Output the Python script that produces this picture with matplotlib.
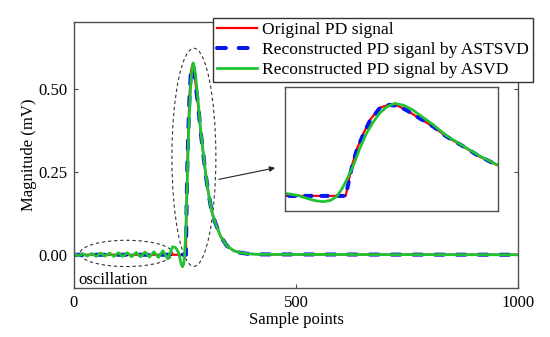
import matplotlib
matplotlib.use("Agg")
import matplotlib.pyplot as plt
from matplotlib.patches import Ellipse, FancyArrowPatch

plt.rcParams['font.family'] = ['Liberation Serif', 'DejaVu Serif']
plt.rcParams['font.size'] = 12

# sample positions of the pulse (knots)
orig_x = [0, 252, 253.9, 255.6, 257.8, 260, 263.2, 266.3, 269, 272, 275.3,
          280.7, 285.1, 290.5, 296, 301.6, 310, 318, 330, 344, 360, 375, 390,
          420, 1000]
orig_y = [0, 0, 0.18, 0.29, 0.39, 0.475, 0.55, 0.57, 0.563, 0.535, 0.495,
          0.433, 0.37, 0.31, 0.245, 0.194, 0.13, 0.096, 0.055, 0.026, 0.012,
          0.006, 0.003, 0.001, 0]

astsvd_y = [0, 0, 0.17, 0.285, 0.385, 0.47, 0.548, 0.568, 0.562, 0.535,
            0.496, 0.434, 0.371, 0.311, 0.246, 0.195, 0.131, 0.097, 0.056,
            0.027, 0.012, 0.006, 0.003, 0.001, 0]

asvd_x = [0, 10, 20, 30, 40, 50, 60, 70, 80, 90, 100, 110, 120, 130, 140, 150,
          160, 170, 180, 190, 200, 211, 222, 228, 232, 236, 239, 242, 244.6,
          247, 249, 250.8, 252.3, 254.3, 256.5, 258.8, 261, 263.2, 265.5,
          268.1, 271, 274, 280.7, 285.1, 290.5, 296, 301.6, 310, 318, 330, 344,
          360, 375, 390, 420, 1000]
asvd_y = [0.004, -0.003, 0.003, -0.004, 0.004, -0.005, 0.005, -0.004, 0.005,
          -0.005, 0.006, -0.005, 0.006, -0.006, 0.007, -0.006, 0.008, -0.007,
          0.009, -0.008, 0.012, -0.012, 0.024, 0.022, 0.016, 0.004, -0.014,
          -0.03, -0.036, -0.028, -0.004, 0.045, 0.1, 0.18, 0.29, 0.39, 0.46,
          0.517, 0.556, 0.577, 0.566, 0.537, 0.445, 0.376, 0.313, 0.25, 0.196,
          0.132, 0.097, 0.056, 0.027, 0.012, 0.006, 0.003, 0.001, 0]

labels = ["Original PD signal", "Reconstructed PD siganl by ASTSVD",
          "Reconstructed PD signal by ASVD"]
red, blue, green = '#ff0000', '#0a14f0', '#22c332'
frame = '#505050'

fig = plt.figure(figsize=(5.5, 3.37), dpi=100)
ax = fig.add_axes([0.1345, 0.1454, 0.8075, 0.7893])


def draw(a, dashes):
    a.plot(orig_x, orig_y, color=red, lw=1.6, label=labels[0])
    a.plot(orig_x, astsvd_y, color=blue, lw=2.9, dashes=dashes,
           dash_capstyle='round', label=labels[1])
    a.plot(asvd_x, asvd_y, color=green, lw=2.0, label=labels[2])


draw(ax, [2.2, 3.2])
ax.set_xlim(0, 1000)
ax.set_ylim(-0.10, 0.70)
ax.set_xticks([0, 500, 1000])
ax.set_yticks([0.0, 0.25, 0.5])
ax.set_yticklabels(['0.00', '0.25', '0.50'])
ax.tick_params(direction='in', length=3, width=0.8, top=True, right=True,
               color=frame, pad=5)
for s in ax.spines.values():
    s.set_color(frame)
    s.set_linewidth(1.0)
ax.set_xlabel("Sample points", labelpad=1)
ax.set_ylabel("Magnitude (mV)", labelpad=1)

# dashed ellipses
ax.add_patch(Ellipse((270, 0.293), 99, 0.656, fill=False, ls=(0, (3, 2.5)),
                     lw=0.8, ec='#333333'))
ax.add_patch(Ellipse((118, 0.004), 209, 0.079, fill=False, ls=(0, (3, 2.5)),
                     lw=0.8, ec='#333333'))
ax.text(11, -0.087, "oscillation", va='baseline', ha='left')

ax.add_patch(FancyArrowPatch((320, 0.225), (459, 0.263), arrowstyle='-|>',
                             mutation_scale=8, lw=0.8, color='#222222'))

# zoomed inset
ins = fig.add_axes([0.518, 0.374, 0.387, 0.368])
draw(ins, [1.6, 2.4])
ins.set_xlim(232, 302)
ins.set_ylim(-0.094, 0.68)
ins.set_xticks([])
ins.set_yticks([])
for s in ins.spines.values():
    s.set_color(frame)
    s.set_linewidth(1.0)

fig.legend(*ax.get_legend_handles_labels(), loc='upper left',
           bbox_to_anchor=(0.387, 0.947), bbox_transform=fig.transFigure,
           fancybox=False, framealpha=1, edgecolor='#333333', fontsize=12.6,
           handlelength=2.3, handletextpad=0.25, labelspacing=0.2,
           borderpad=0.25, borderaxespad=0)

fig.savefig("out.png", dpi=100)
